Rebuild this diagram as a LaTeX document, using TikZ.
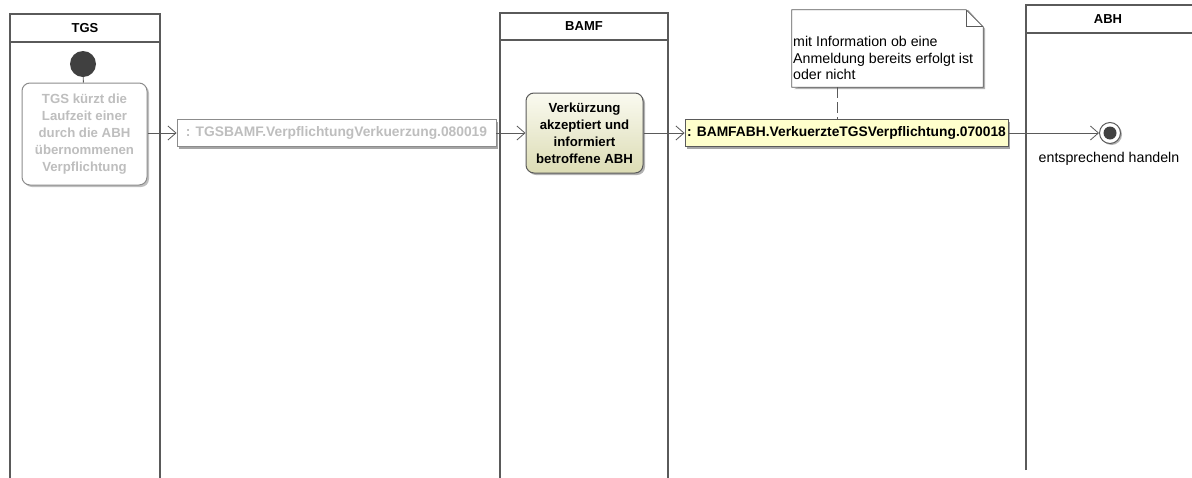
\documentclass[tikz,border=0pt]{standalone}
\usepackage{fontspec}
\setmainfont{Liberation Sans}
\usetikzlibrary{arrows.meta,shadows}
\definecolor{lane}{HTML}{5A5A5A}
\definecolor{ghost}{HTML}{BEBEBE}
\definecolor{ghostline}{HTML}{8C8C8C}
\definecolor{objyellow}{HTML}{FFFFCC}
\definecolor{actlo}{HTML}{DCDCB4}
\definecolor{acthi}{HTML}{FAFAF0}
\definecolor{dot}{HTML}{404040}
\begin{document}
\begin{tikzpicture}[x=1pt,y=-1pt,
  lanebox/.style={draw=lane,line width=1.3pt},
  lanehead/.style={font=\fontsize{13}{15}\selectfont\bfseries,anchor=center},
  flow/.style={draw=lane,line width=0.8pt,-{Straight Barb[length=8pt,width=14pt,line width=0.8pt]}},
  actbox/.style={rounded corners=8pt,align=center,inner sep=1pt,
     font=\fontsize{13.2}{17}\selectfont\bfseries,line width=1pt},
  objbox/.style={draw=lane,line width=0.9pt,inner sep=0pt,
     drop shadow={shadow xshift=2pt,shadow yshift=-2pt,fill=black!35,opacity=1},
     font=\fontsize{13.8}{15}\selectfont\bfseries},
  lbl/.style={font=\fontsize{14.2}{16.7}\selectfont}
]
\useasboundingbox (0,0) rectangle (1192,477);
% lanes
\draw[lanebox] (10,480) -- (10,14) -- (160,14) -- (160,480);
\draw[lanebox] (10,42) -- (160,42);
\node[lanehead] (hTGS) at (85,28) {TGS};
\draw[lanebox] (500,480) -- (500,13) -- (668,13) -- (668,480);
\draw[lanebox] (500,40) -- (668,40);
\node[lanehead] (hBAMF) at (584,26) {BAMF};
\draw[lanebox] (1026,470) -- (1026,5) -- (1200,5);
\draw[lanebox] (1026,33) -- (1200,33);
\node[lanehead] (hABH) at (1108,19) {ABH};
% initial node
\node[circle,fill=dot,minimum size=26pt,inner sep=0pt] (init) at (83,64) {};
% TGS action
\node[actbox,draw=ghostline,text=ghost,fill=white,minimum width=125pt,minimum height=102pt,
  drop shadow={shadow xshift=2pt,shadow yshift=-2pt,fill=black!25,opacity=1}] (a1) at (84.5,134)
  {TGS kürzt die\\Laufzeit einer\\durch die ABH\\übernommenen\\Verpflichtung};
\draw[draw=lane,line width=0.8pt] (init) -- (a1);
% object 1
\node[objbox,draw=ghostline,fill=white,text=ghost,minimum width=319pt,minimum height=27pt] (o1) at (336.5,133)
  {: TGSBAMF.VerpflichtungVerkuerzung.080019};
% BAMF action
\node[actbox,draw=lane,text=black,top color=acthi,bottom color=actlo,minimum width=117pt,minimum height=80pt,
  drop shadow={shadow xshift=2pt,shadow yshift=-2pt,fill=black!30,opacity=1}] (a2) at (584.5,133)
  {Verkürzung\\akzeptiert und\\informiert\\betroffene ABH};
% object 2
\node[objbox,fill=objyellow,text=black,minimum width=323pt,minimum height=27pt] (o2) at (846.5,133)
  {: BAMFABH.VerkuerzteTGSVerpflichtung.070018};
% note
\node[draw=none,minimum width=191pt,minimum height=77pt,inner sep=0pt] (note) at (887.5,48.5) {};
\fill[black!30] ([xshift=2pt,yshift=-2pt]note.south west) -- ([xshift=2pt,yshift=-2pt]note.south east) -- ([xshift=2pt,yshift=-19pt]note.north east) -- ([xshift=-15pt,yshift=0pt]note.north east) -- cycle;
\draw[draw=lane,line width=0.8pt,fill=white] (note.south west) -- (note.north west) -- ([xshift=-17pt]note.north east)
  -- ([yshift=-17pt]note.north east) -- (note.south east) -- cycle;
\draw[draw=lane,line width=0.8pt] ([xshift=-17pt]note.north east) -- ([xshift=-17pt,yshift=-17pt]note.north east) -- ([yshift=-17pt]note.north east);
\node[lbl,align=left,anchor=west,inner sep=0pt] (notetext) at (793,58) {mit Information ob eine\\Anmeldung bereits erfolgt ist\\oder nicht};
\coordinate (nt) at (837,87);
\draw[draw=lane,line width=0.8pt,dash pattern=on 11pt off 4pt] (nt) -- (nt |- o2.north);
% final node
\node[circle,draw=lane,line width=1pt,fill=white,minimum size=21pt,inner sep=0pt,
  drop shadow={shadow xshift=1.5pt,shadow yshift=-1.5pt,fill=black!30,opacity=1}] (fin) at (1110,133) {};
\node[circle,fill=dot,minimum size=13pt,inner sep=0pt] (finin) at (fin) {};
\node[lbl] (finlbl) at (1109,159) {entsprechend handeln};
% flows
\draw[flow] (a1.east |- o1) -- (o1.west);
\draw[flow] (o1.east) -- (a2.west |- o1);
\draw[flow] (a2.east |- o2) -- (o2.west);
\draw[flow] (o2.east) -- (fin.west);
\end{tikzpicture}
\end{document}
